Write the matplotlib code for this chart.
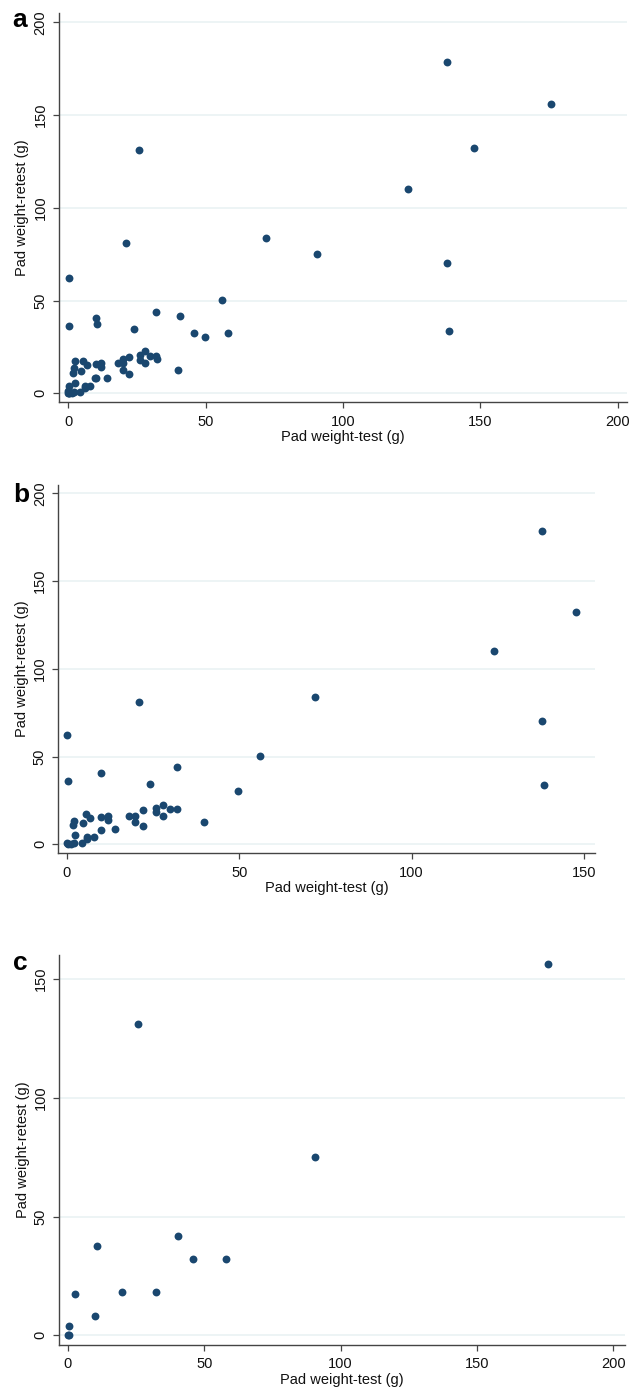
import numpy as np
import matplotlib
matplotlib.use('Agg')
import matplotlib.pyplot as plt

plt.rcParams['font.family'] = ['Liberation Sans', 'DejaVu Sans']

# panel b
b_test = [137.7, 147.7, 123.8, 71.9, 20.9, 137.7, 0.1, 55.9, 32.0, 9.9,
          0.3, 24.0, 138.5, 49.8, 28.0, 26.0, 29.9, 32.0, 22.0, 26.0,
          18.0, 19.8, 28.0, 5.5, 6.8, 9.9, 11.9, 11.9, 2.2, 1.7,
          4.8, 19.8, 22.0, 39.9, 14.0, 9.9, 2.4, 5.9, 6.0, 8.0,
          0.0, 0.4, 1.2, 2.2, 4.3]
b_retest = [178.5, 132.2, 110.0, 84.0, 80.9, 70.1, 62.3, 50.3, 44.1, 40.5,
            36.3, 34.4, 33.6, 30.2, 22.6, 20.5, 20.1, 20.1, 19.4, 18.2,
            16.1, 16.1, 16.1, 17.3, 15.2, 15.6, 16.1, 14.1, 13.5, 11.2,
            12.2, 12.5, 10.3, 12.5, 8.5, 8.4, 5.3, 2.8, 4.2, 4.2,
            1.0, 0.3, 0.2, 0.7, 0.6]

# panel c
c_test = [175.9, 25.7, 90.7, 40.5, 10.6, 45.8, 58.0, 19.8, 32.4, 2.5,
          9.8, 0.4, 0.0, 0.3]
c_retest = [156.2, 131.0, 74.9, 41.7, 37.6, 32.3, 32.3, 18.3, 18.3, 17.4,
            8.1, 3.8, 0.0, 0.0]

# panel a = everyone
a_test = b_test + c_test
a_retest = b_retest + c_retest

W, H = 630, 1390
NAVY = '#1a476f'
GRID = '#eaf2f3'

fig = plt.figure(figsize=(W / 100, H / 100), dpi=100)


def px_axes(left, top, right, bottom):
    return fig.add_axes([left / W, 1 - bottom / H, (right - left) / W, (bottom - top) / H])


def setup(ax, x, y, xlim, ylim, xticks, yticks, letter, lx, ly):
    ax.scatter(x, y, s=32, color=NAVY, linewidths=0, zorder=3)
    ax.set_xlim(*xlim)
    ax.set_ylim(*ylim)
    ax.set_xticks(xticks)
    ax.set_yticks(yticks)
    ax.yaxis.grid(True, color=GRID, linewidth=1.2)
    ax.set_axisbelow(True)
    for s in ['top', 'right']:
        ax.spines[s].set_visible(False)
    for s in ['left', 'bottom']:
        ax.spines[s].set_color('#444444')
        ax.spines[s].set_linewidth(1.0)
    ax.tick_params(axis='both', direction='out', length=4, width=0.9,
                   color='#444444', labelsize=10.5, labelcolor='#111111')
    ax.tick_params(axis='x', pad=5)
    ax.tick_params(axis='y', pad=4, labelrotation=90)
    for t in ax.get_yticklabels():
        t.set_va('center')
    ax.set_xlabel('Pad weight-test (g)', fontsize=10.5, labelpad=1, color='#111111')
    ax.set_ylabel('Pad weight-retest (g)', fontsize=10.5, labelpad=3, color='#111111')
    fig.text(lx / W, 1 - ly / H, letter, fontsize=19, fontweight='bold',
             ha='left', va='baseline')


ax1 = px_axes(58.7, 12.7, 627, 402.3)
setup(ax1, a_test, a_retest, (-3.5, 203.4), (-4.85, 205.2),
      [0, 50, 100, 150, 200], [0, 50, 100, 150, 200], 'a', 12, 27)

ax2 = px_axes(58, 485, 595, 853)
setup(ax2, b_test, b_retest, (-2.55, 153.2), (-4.96, 204.7),
      [0, 50, 100, 150], [0, 50, 100, 150, 200], 'b', 13, 502)

ax3 = px_axes(58.8, 955, 625, 1345)
setup(ax3, c_test, c_retest, (-3.37, 204.3), (-4.09, 160.2),
      [0, 50, 100, 150, 200], [0, 50, 100, 150], 'c', 13, 970)

fig.savefig('out.png', dpi=100)
